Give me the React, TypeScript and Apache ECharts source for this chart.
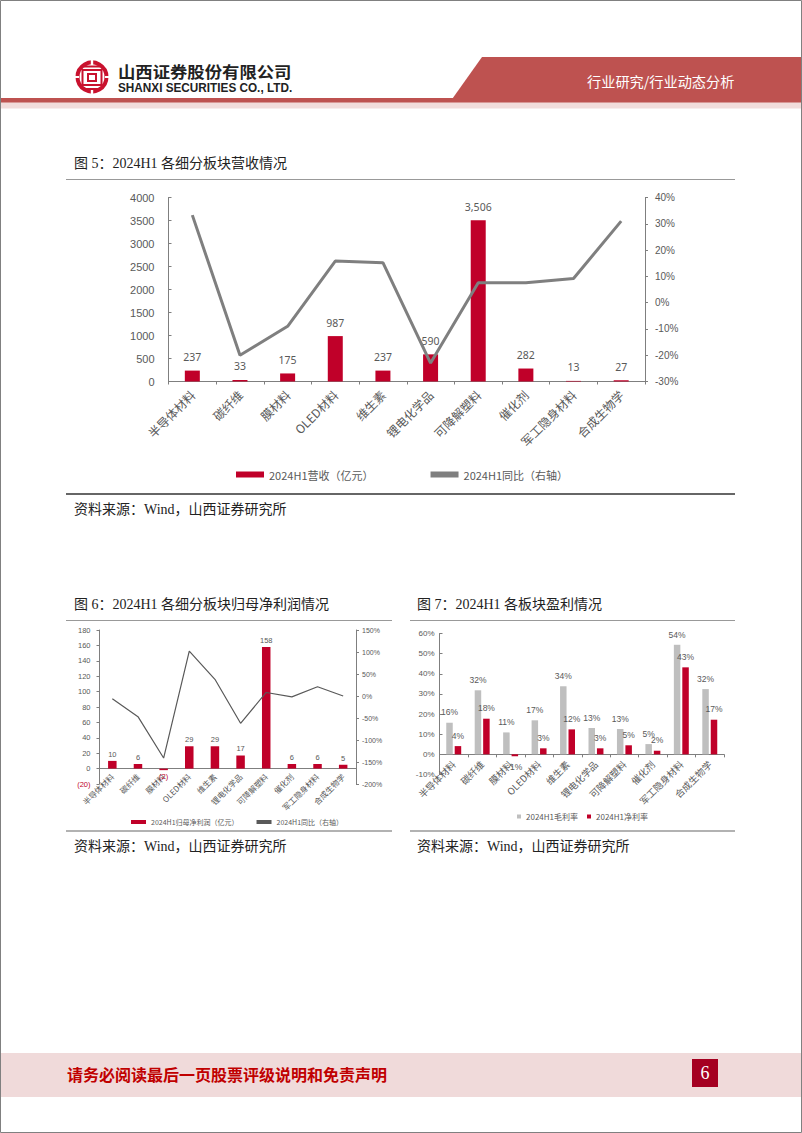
import React, { useEffect, useRef } from "react";
import * as echarts from "echarts";

const categories = ["半导体材料", "碳纤维", "膜材料", "OLED材料", "维生素", "锂电化学品", "可降解塑料", "催化剂", "军工隐身材料", "合成生物学"];
const revenue = [237, 33, 175, 987, 237, 590, 3506, 282, 13, 27];
const revenueYoy = [33.3, -20, -9, 15.8, 15.2, -23, 7.6, 7.6, 9.2, 31];
const profit = [10, 6, -2, 29, 29, 17, 158, 6, 6, 5];
const profitYoy = [-6, -47, -141, 102, 38, -62, 8, -2, 21, 0];
const gross = [15.7, 31.8, 10.9, 16.9, 33.8, 13.1, 12.6, 5.1, 54.4, 32.4];
const net = [4.1, 17.7, -1, 3, 12.4, 3, 4.5, 1.8, 43.2, 17.2];

const COLON = "\uFF1A";
const COMMA = "\uFF0C";
const LP = "\uFF08";
const RP = "\uFF09";
const nameRevenue = `2024H1营收${LP}亿元${RP}`;
const nameYoy = `2024H1同比${LP}右轴${RP}`;
const nameProfit = `2024H1归母净利润${LP}亿元${RP}`;
const source = `资料来源${COLON}Wind${COMMA}山西证券研究所`;

const RED = "#C00029";
const GREY = "#7F7F7F";
const TXT = "#595959";
const CJK = '"Noto Sans CJK SC", sans-serif';
const SERIF = '"Liberation Serif", "Noto Sans CJK SC", serif';
const SANS = '"Liberation Sans", "Noto Sans CJK SC", sans-serif';

const text = (x: number, y: number, t: string, fontSize: number, fill: string, extra: any = {}, el: any = {}) => ({
  type: "text",
  x,
  y,
  silent: true,
  ...el,
  style: { text: t, fontSize, fill, fontFamily: CJK, textVerticalAlign: "middle", ...extra },
});
const rect = (x: number, y: number, width: number, height: number, fill: string) => ({
  type: "rect",
  silent: true,
  shape: { x, y, width, height },
  style: { fill },
});
const hline = (x1: number, x2: number, y: number, stroke: string, lineWidth = 1) => ({
  type: "line",
  silent: true,
  shape: { x1, x2, y1: y, y2: y },
  style: { stroke, lineWidth },
});

const LOGO = "#C9122E";
const logo = [
  { type: "circle", silent: true, shape: { cx: 92, cy: 77, r: 14.5 }, style: { fill: "#fff", stroke: LOGO, lineWidth: 4 } },
  rect(90.8, 60, 2.4, 6, "#fff"),
  rect(90.8, 88, 2.4, 6, "#fff"),
  rect(75, 76, 4, 2, "#fff"),
  rect(105, 76, 4, 2, "#fff"),
  rect(84, 65.5, 16, 2, LOGO),
  rect(81.5, 69, 21, 17, LOGO),
  rect(83.5, 71, 17, 13, "#fff"),
  rect(87, 73, 10, 9, LOGO),
  rect(89, 75, 6, 5, "#fff"),
  rect(84, 88, 16, 2, LOGO),
];

const graphics = [
  { type: "rect", silent: true, shape: { x: 0.5, y: 0.5, width: 801, height: 1132 }, style: { fill: "none", stroke: "#808080", lineWidth: 1 } },
  rect(1, 102, 800, 6.5, "#F2DCDB"),
  rect(1, 98, 800, 4.5, "#BE5250"),
  { type: "polygon", silent: true, shape: { points: [[482, 57], [801, 57], [801, 102], [450, 102]] }, style: { fill: "#BE5250" } },
  ...logo,
  text(118, 71, "山西证券股份有限公司", 15.5, "#222", { fontWeight: "bold" }, { scaleX: 1.12 }),
  text(118, 88, "SHANXI SECURITIES CO., LTD.", 12, "#222", { fontWeight: "bold", fontFamily: SANS }, { scaleX: 0.98 }),
  text(587, 81, "行业研究/行业动态分析", 14.2, "#fff"),
  text(74, 163, `图 5${COLON}2024H1 各细分板块营收情况`, 14, "#222", { fontFamily: SERIF }),
  hline(66, 735, 179.5, "#999"),
  hline(66, 735, 494, "#333", 1.5),
  text(74, 509, source, 14, "#222", { fontFamily: SERIF }),
  text(74, 604, `图 6${COLON}2024H1 各细分板块归母净利润情况`, 14, "#222", { fontFamily: SERIF }),
  hline(66, 392, 620.5, "#999"),
  hline(66, 392, 831, "#999", 1.5),
  text(74, 846, source, 14, "#222", { fontFamily: SERIF }),
  text(417, 604, `图 7${COLON}2024H1 各板块盈利情况`, 14, "#222", { fontFamily: SERIF }),
  hline(410, 735, 620.5, "#999"),
  hline(410, 735, 831, "#999", 1.5),
  text(417, 846, source, 14, "#222", { fontFamily: SERIF }),
  rect(1, 1053, 800, 44, "#F0DADA"),
  text(67, 1073.5, "请务必阅读最后一页股票评级说明和免责声明", 16, "#C00000", { fontWeight: "bold" }),
  rect(692, 1059, 26, 28, "#A50021"),
  text(705, 1073, "6", 18, "#fff", { fontFamily: SERIF, textAlign: "center" }),
];

const catAxis = (gridIndex: number, fontSize: number, margin: number, tick = true) => ({
  type: "category",
  gridIndex,
  data: categories,
  axisLine: { onZero: true, lineStyle: { color: GREY } },
  axisTick: { show: tick, length: 3, lineStyle: { color: GREY } },
  axisLabel: { rotate: 45, interval: 0, fontSize, color: TXT, fontFamily: CJK, margin },
});

const valAxis = (
  gridIndex: number,
  position: "left" | "right",
  min: number,
  max: number,
  interval: number,
  fontSize: number,
  margin: number,
  formatter: any,
  color: any = TXT,
  inside = false,
) => ({
  type: "value",
  gridIndex,
  position,
  min,
  max,
  interval,
  splitLine: { show: false },
  axisLine: { show: true, onZero: false, lineStyle: { color: GREY } },
  axisTick: { show: true, length: 3, inside, lineStyle: { color: GREY } },
  axisLabel: { fontSize, margin, color, formatter, fontFamily: SANS },
});

const pct = (v: number) => `${v}%`;
const paren = (v: number) => (v < 0 ? `(${Math.abs(v)})` : `${v}`);
const legendText = (fontSize: number) => ({ fontSize, color: TXT, fontFamily: CJK });

const option: any = {
  animation: false,
  graphic: { elements: graphics },
  grid: [
    { left: 168.5, top: 197.5, width: 476.5, height: 184 },
    { left: 99.5, top: 630, width: 256.5, height: 154 },
    { left: 439.5, top: 633.5, width: 284.5, height: 141 },
  ],
  xAxis: [catAxis(0, 12, 11), catAxis(1, 8, -9, false), catAxis(2, 9.5, -12)],
  yAxis: [
    valAxis(0, "left", 0, 4000, 500, 11, 14, (v: number) => `${v}`, TXT, true),
    valAxis(0, "right", -30, 40, 10, 10, 10, pct),
    valAxis(1, "left", -20, 180, 20, 7.5, 9, paren, (v: any) => (String(v).startsWith("(") || Number(v) < 0 ? RED : TXT)),
    valAxis(1, "right", -200, 150, 50, 7, 6, pct),
    valAxis(2, "left", -10, 60, 10, 8, 5, pct, TXT, true),
  ],
  legend: [
    {
      left: 236,
      top: 469,
      padding: 0,
      itemWidth: 28,
      itemHeight: 6,
      itemGap: 57,
      textStyle: legendText(11),
      data: [
        { name: nameRevenue, icon: "rect" },
        { name: nameYoy, icon: "rect", itemStyle: { color: GREY } },
      ],
    },
    {
      left: 131,
      top: 818.5,
      padding: 0,
      itemWidth: 15,
      itemHeight: 4,
      itemGap: 18,
      textStyle: legendText(7),
      data: [
        { name: nameProfit, icon: "rect" },
        { name: nameYoy, icon: "rect", itemStyle: { color: "#595959" } },
      ],
    },
    {
      left: 517,
      top: 812.5,
      padding: 0,
      itemWidth: 4,
      itemHeight: 4,
      itemGap: 9,
      textStyle: legendText(8),
      data: [
        { name: "2024H1毛利率", icon: "rect" },
        { name: "2024H1净利率", icon: "rect" },
      ],
    },
  ],
  series: [
    {
      type: "bar",
      name: nameRevenue,
      xAxisIndex: 0,
      yAxisIndex: 0,
      data: revenue,
      barWidth: 15,
      itemStyle: { color: RED },
      label: {
        show: true,
        position: "top",
        distance: 8,
        fontSize: 10.5,
        color: TXT,
        fontFamily: "Noto Sans",
        formatter: (p: any) => p.value.toLocaleString("en-US"),
      },
    },
    {
      type: "line",
      name: nameYoy,
      xAxisIndex: 0,
      yAxisIndex: 1,
      data: revenueYoy,
      symbol: "none",
      lineStyle: { color: GREY, width: 3 },
      itemStyle: { color: GREY },
    },
    {
      type: "bar",
      name: nameProfit,
      xAxisIndex: 1,
      yAxisIndex: 2,
      data: profit.map((v) =>
        v < 0 ? { value: v, label: { position: "bottom", color: RED, distance: 3 } } : v,
      ),
      barWidth: 8.5,
      itemStyle: { color: RED },
      label: {
        show: true,
        position: "top",
        distance: 3,
        fontSize: 7.5,
        color: TXT,
        fontFamily: SANS,
        formatter: (p: any) => paren(p.value),
      },
    },
    {
      type: "line",
      name: nameYoy,
      xAxisIndex: 1,
      yAxisIndex: 3,
      data: profitYoy,
      symbol: "none",
      lineStyle: { color: "#595959", width: 1.2 },
      itemStyle: { color: "#595959" },
    },
    ...[
      { name: "2024H1毛利率", values: gross, color: "#BFBFBF" },
      { name: "2024H1净利率", values: net, color: RED },
    ].map((s) => ({
      type: "bar",
      name: s.name,
      xAxisIndex: 2,
      yAxisIndex: 4,
      barWidth: 6.5,
      barGap: "30%",
      data: s.values.map((v) => (v < 0 ? { value: v, label: { position: "bottom", distance: 6 } } : v)),
      itemStyle: { color: s.color },
      label: {
        show: true,
        position: "top",
        distance: 6,
        fontSize: 8.5,
        color: TXT,
        fontFamily: SANS,
        formatter: (p: any) => `${Math.round(p.value)}%`,
      },
    })),
  ],
};

export default function App() {
  const ref = useRef<HTMLDivElement>(null);
  useEffect(() => {
    document.body.style.margin = "0";
    const chart = echarts.init(ref.current!, undefined, { renderer: "svg" });
    chart.setOption(option);
    return () => chart.dispose();
  }, []);
  return <div ref={ref} style={{ position: "absolute", left: 0, top: 0, width: 802, height: 1133, background: "#fff" }} />;
}
